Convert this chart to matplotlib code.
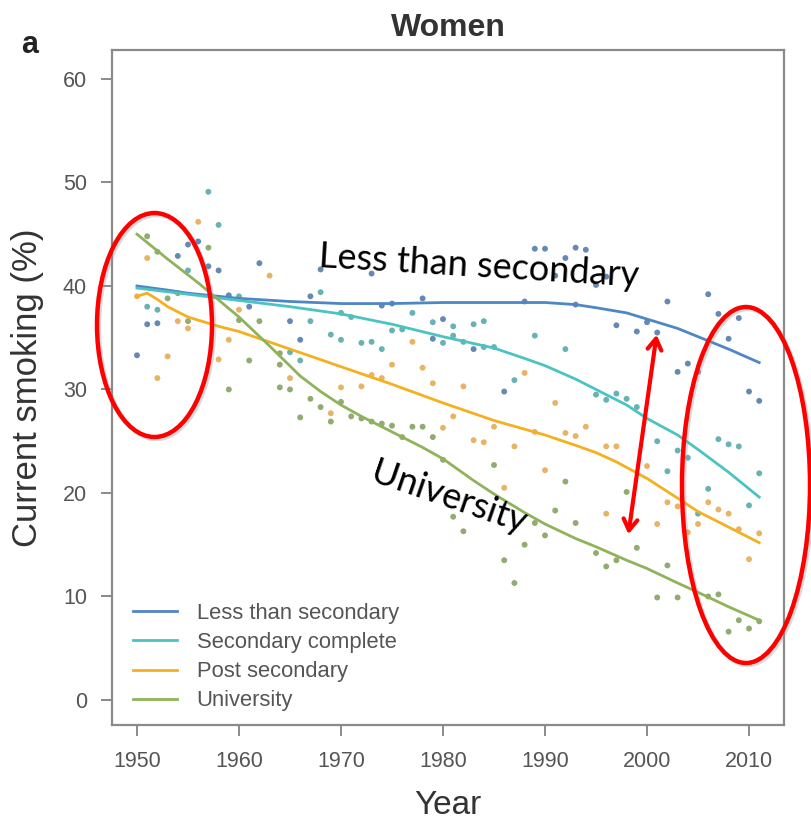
import matplotlib
matplotlib.use("Agg")
import matplotlib.pyplot as plt
from matplotlib.patches import Ellipse, FancyArrowPatch

W, H = 811, 825

# ---------------------------------------------------------------------------
# Data
# ---------------------------------------------------------------------------
series_names = ["Less than secondary", "Secondary complete", "Post secondary", "University"]

less_years = [1950, 1951, 1952, 1954, 1955, 1956, 1957, 1958, 1959, 1961, 1962, 1965,
              1966, 1967, 1968, 1973, 1974, 1975, 1978, 1979, 1980, 1983, 1986, 1988,
              1989, 1990, 1991, 1992, 1993, 1993, 1994, 1995, 1996, 1997, 1999, 2000,
              2001, 2002, 2003, 2004, 2005, 2006, 2007, 2008, 2009, 2010, 2011]
less_vals = [33.3, 36.3, 36.4, 42.9, 44.0, 44.3, 41.9, 41.5, 39.1, 38.0, 42.2, 36.6,
             34.8, 39.0, 41.6, 41.2, 38.1, 38.3, 38.8, 34.9, 36.8, 33.9, 29.8, 38.5,
             43.6, 43.6, 41.0, 42.7, 43.7, 38.2, 43.5, 40.1, 40.9, 36.2, 35.6, 36.5,
             35.5, 38.5, 31.7, 32.5, 31.7, 39.2, 37.3, 34.9, 36.9, 29.8, 28.9]

sec_years = [1951, 1952, 1955, 1957, 1958, 1960, 1965, 1966, 1967, 1968, 1969, 1970,
             1970, 1971, 1972, 1973, 1974, 1975, 1976, 1977, 1979, 1980, 1981, 1981,
             1982, 1983, 1984, 1984, 1985, 1987, 1989, 1992, 1995, 1996, 1997, 1998,
             1999, 2001, 2002, 2003, 2004, 2005, 2006, 2007, 2008, 2009, 2010, 2011]
sec_vals = [38.0, 37.7, 41.5, 49.1, 45.9, 39.0, 33.6, 32.8, 36.6, 39.4, 35.3, 37.4,
            34.8, 37.0, 34.5, 34.6, 33.9, 35.7, 35.8, 37.4, 36.5, 34.5, 36.1, 35.2,
            34.6, 36.3, 36.6, 34.1, 34.1, 30.9, 35.2, 33.9, 29.5, 29.0, 29.6, 29.1,
            28.3, 25.0, 22.1, 24.1, 23.4, 18.0, 20.4, 25.2, 24.7, 24.5, 18.8, 21.9]

post_years = [1950, 1951, 1952, 1953, 1954, 1955, 1956, 1958, 1959, 1960, 1963, 1965,
              1969, 1970, 1972, 1973, 1974, 1975, 1977, 1978, 1979, 1980, 1981, 1982,
              1983, 1984, 1985, 1986, 1987, 1988, 1989, 1990, 1991, 1992, 1993, 1994,
              1996, 1996, 1997, 2000, 2001, 2002, 2003, 2004, 2005, 2006, 2007, 2008,
              2009, 2010, 2011]
post_vals = [39.0, 42.7, 31.1, 33.2, 36.6, 35.9, 46.2, 32.9, 34.8, 37.7, 41.0, 31.1,
             27.7, 30.2, 30.3, 31.4, 31.1, 32.4, 34.6, 32.1, 30.6, 26.3, 27.4, 30.3,
             25.1, 24.9, 26.4, 20.5, 24.5, 31.6, 25.9, 22.2, 28.7, 25.8, 25.5, 26.4,
             24.5, 18.0, 24.5, 22.6, 17.0, 19.1, 18.7, 16.2, 17.0, 19.1, 18.4, 18.0,
             16.5, 13.6, 16.1]

uni_years = [1951, 1952, 1953, 1954, 1955, 1957, 1959, 1960, 1961, 1962, 1964, 1964,
             1964, 1965, 1966, 1967, 1968, 1969, 1970, 1971, 1972, 1973, 1974, 1975,
             1976, 1977, 1978, 1979, 1980, 1981, 1982, 1985, 1986, 1987, 1988, 1989,
             1990, 1991, 1992, 1993, 1995, 1996, 1997, 1998, 1999, 2001, 2002, 2003,
             2006, 2007, 2008, 2009, 2010, 2011]
uni_vals = [44.8, 43.3, 38.8, 39.3, 36.6, 43.7, 30.0, 36.7, 32.8, 36.6, 33.5, 32.4,
            30.2, 30.0, 27.3, 29.1, 28.3, 26.9, 28.8, 27.4, 27.2, 26.9, 26.7, 26.5,
            25.4, 26.4, 26.4, 25.4, 23.2, 17.7, 16.3, 22.7, 13.5, 11.3, 15.0, 17.1,
            15.9, 18.3, 21.1, 17.1, 14.2, 12.9, 13.5, 20.1, 14.7, 9.9, 13.0, 9.9,
            10.0, 10.2, 6.6, 7.7, 6.9, 7.6]

# smoothed trend lines
less_fit_years = [1950, 1953, 1955, 1960, 1965, 1970, 1975, 1980, 1985, 1990, 1993,
                  1995, 1998, 2000, 2003, 2005, 2008, 2011]
less_fit_vals = [40.0, 39.6, 39.3, 38.8, 38.5, 38.3, 38.3, 38.4, 38.4, 38.4, 38.2,
                 37.9, 37.4, 36.8, 35.9, 35.1, 33.9, 32.6]

sec_fit_years = [1950, 1955, 1960, 1965, 1970, 1975, 1980, 1985, 1988, 1990, 1993,
                 1995, 1998, 2000, 2003, 2005, 2008, 2011]
sec_fit_vals = [39.8, 39.2, 38.6, 38.0, 37.3, 36.3, 35.1, 34.0, 33.0, 32.3, 31.0,
                30.0, 28.5, 27.2, 25.6, 24.2, 22.0, 19.6]

post_fit_years = [1950, 1951, 1952, 1953, 1955, 1958, 1960, 1965, 1970, 1975, 1980,
                  1985, 1990, 1993, 1995, 1997, 2000, 2003, 2005, 2008, 2011]
post_fit_vals = [39.0, 39.3, 38.7, 38.0, 37.0, 36.1, 35.6, 33.9, 32.2, 30.5, 28.7,
                 27.0, 25.6, 24.6, 23.9, 23.0, 21.4, 19.5, 18.2, 16.7, 15.2]

uni_fit_years = [1950, 1953, 1956, 1960, 1963, 1966, 1968, 1970, 1972, 1975, 1978,
                 1980, 1983, 1985, 1988, 1990, 1993, 1995, 1998, 2000, 2003, 2005,
                 2008, 2011]
uni_fit_vals = [45.0, 42.6, 40.3, 37.0, 34.2, 31.3, 29.8, 28.5, 27.4, 25.9, 24.4,
                23.3, 21.2, 19.9, 18.1, 17.0, 15.6, 14.8, 13.5, 12.7, 11.3, 10.4,
                9.0, 7.7]

line_colors = ["#4f86c6", "#4cc3c3", "#f5b020", "#8fb35a"]
dot_colors = ["#4b75a6", "#4fa5a6", "#e6a64a", "#7e9c57"]

x_ticks = [1950, 1960, 1970, 1980, 1990, 2000, 2010]
y_ticks = [0, 10, 20, 30, 40, 50, 60]


def fx(px):
    return px / W


def fy(py):
    return 1 - py / H


# ---------------------------------------------------------------------------
# Figure
# ---------------------------------------------------------------------------
plt.rcParams["font.family"] = ["Liberation Sans", "DejaVu Sans"]
fig = plt.figure(figsize=(W / 100, H / 100), dpi=100)
ax = fig.add_axes([fx(112), fy(725), fx(784) - fx(112), fy(50) - fy(725)])

scatter_data = [(less_years, less_vals), (sec_years, sec_vals),
                (post_years, post_vals), (uni_years, uni_vals)]
fit_data = [(less_fit_years, less_fit_vals), (sec_fit_years, sec_fit_vals),
            (post_fit_years, post_fit_vals), (uni_fit_years, uni_fit_vals)]

for (xs, ys), col in zip(scatter_data, dot_colors):
    ax.scatter(xs, ys, s=18, color=col, alpha=0.85, edgecolors="none", zorder=2)

for (xs, ys), col, name in zip(fit_data, line_colors, series_names):
    ax.plot(xs, ys, color=col, lw=2.0, label=name, zorder=3,
            solid_joinstyle="round")

ax.set_xlim(1947.55, 2013.43)
ax.set_ylim(-2.42, 62.8)
ax.set_xticks(x_ticks)
ax.set_yticks(y_ticks)

for sp in ax.spines.values():
    sp.set_color("#8a8a8a")
    sp.set_linewidth(1.6)
ax.tick_params(direction="out", length=8, width=1.4, color="#8a8a8a",
               labelsize=15.5, labelcolor="#555555")
ax.tick_params(axis="x", pad=11)
ax.tick_params(axis="y", pad=10)

ax.set_xlabel("Year", fontsize=24, color="#333333", va="center")
ax.xaxis.set_label_coords(0.5, (725 - 805) / 675)
ax.set_ylabel("Current smoking (%)", fontsize=25, color="#333333", va="center")
ax.yaxis.set_label_coords((28 - 112) / 672, 0.5)
ax.set_title("Women", fontsize=23, fontweight="bold", color="#333333", pad=10)
fig.text(fx(30), fy(45), "a", fontsize=22, fontweight="bold", color="#222222",
         ha="center", va="center")

leg = ax.legend(loc="upper left", bbox_to_anchor=(fx(133), fy(603)),
                bbox_transform=fig.transFigure, frameon=False, fontsize=15.8,
                handlelength=2.0, handletextpad=0.9, labelspacing=0.37,
                borderpad=0, borderaxespad=0)
for t in leg.get_texts():
    t.set_color("#555555")

# ---------------------------------------------------------------------------
# Red annotations drawn over the figure
# ---------------------------------------------------------------------------
for cx, cy, w, h in [(154.5, 325, 115, 224), (746, 485, 128, 356)]:
    sh = Ellipse((fx(cx + 2), fy(cy + 2)), w / W, h / H, transform=fig.transFigure,
                 fill=False, edgecolor="#999999", lw=3.2, alpha=0.35, zorder=9)
    fig.patches.append(sh)
    e = Ellipse((fx(cx), fy(cy)), w / W, h / H, transform=fig.transFigure,
                fill=False, edgecolor="#ff0000", lw=3.2, zorder=10)
    fig.patches.append(e)

arrow = FancyArrowPatch((fx(628), fy(537)), (fx(657), fy(332)),
                        transform=fig.transFigure,
                        arrowstyle="<->,head_length=8,head_width=5",
                        color="#ff0000", lw=3.0, zorder=11)
fig.patches.append(arrow)

fig.text(fx(479), fy(266), "Less than secondary", fontsize=26, family="Lato",
         color="black", ha="center", va="center", rotation=-3.5,
         rotation_mode="anchor")
fig.text(fx(449), fy(498), "University", fontsize=26, family="Lato",
         color="black", ha="center", va="center", rotation=-19,
         rotation_mode="anchor")

fig.savefig("out.png", dpi=100)
